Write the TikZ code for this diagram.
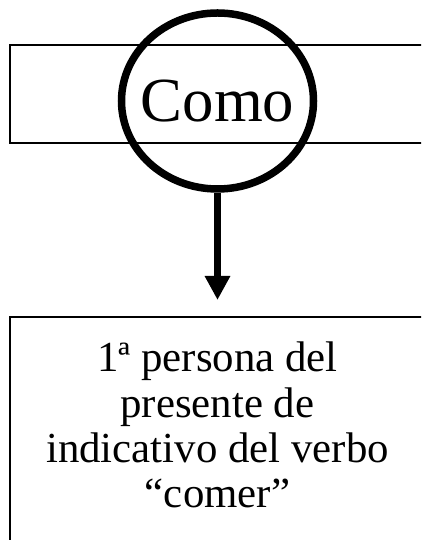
\documentclass[tikz,border=0pt]{standalone}
\usepackage{fontspec}
\setmainfont{Liberation Serif}
\usetikzlibrary{shapes.geometric,arrows.meta,positioning}
\tikzset{frame/.style={draw, line width=1.8bp, inner sep=0pt, outer sep=0pt}}

\begin{document}
\begin{tikzpicture}[x=1bp,y=1bp]
        \useasboundingbox (0,0) rectangle (421,540);
        \clip (0,0) rectangle (421,540);
        \node[frame, minimum width=417bp, minimum height=98bp] (band) at (218.5,446) {};
        \node[draw, ellipse, line width=7.5bp, minimum width=192bp, minimum height=176bp, inner sep=0pt, font=\fontsize{63}{72}\selectfont] (como) at (217.5,439) {\makebox[0pt]{Como}};
        \node[frame, anchor=north, minimum width=415bp, minimum height=260bp] (desc) at (217.5,223) {};
        \node[below=25bp of desc.north, inner sep=0pt, align=center, font=\fontsize{43}{45.5}\selectfont] (verbo) {1ª persona del\\presente de\\indicativo del verbo\\“comer”};
        
        \draw[line width=7bp, -{Triangle[width=24bp,length=24bp]}, shorten >=17bp] (como) -- (desc);
    \end{tikzpicture}
\end{document}
